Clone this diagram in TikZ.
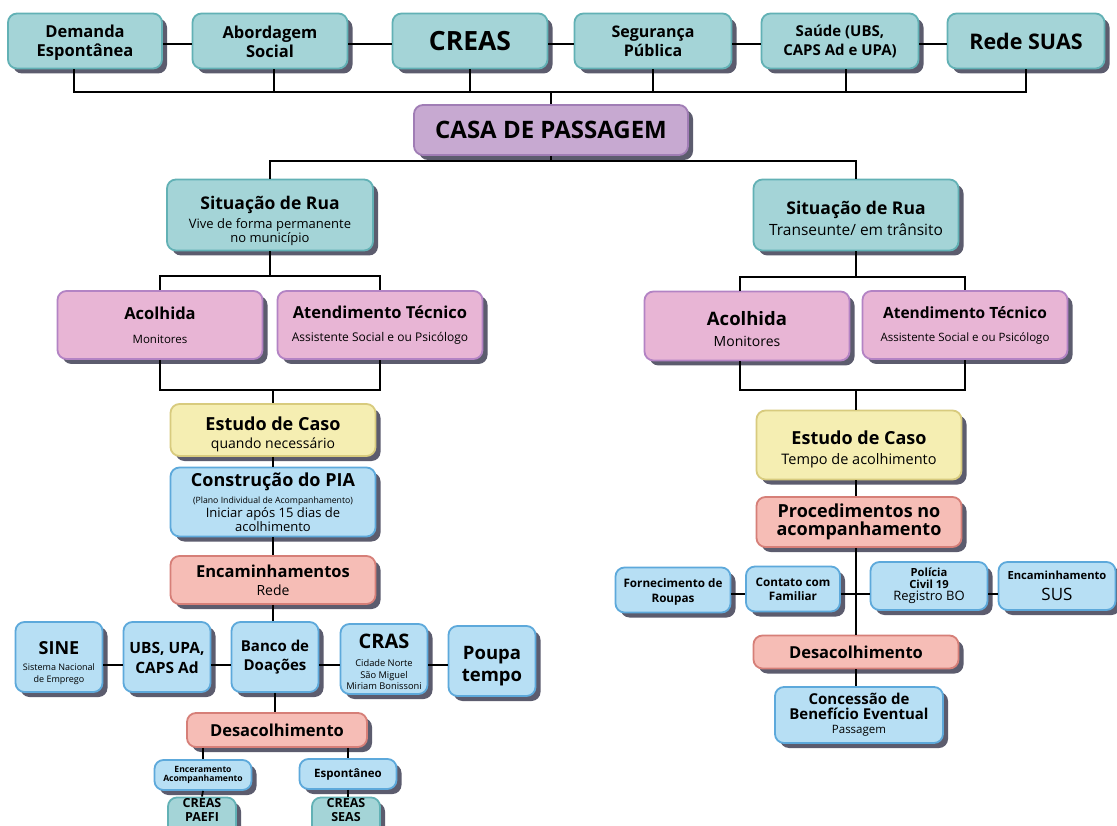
\documentclass[tikz,border=0pt]{standalone}
\usepackage{fontspec}
\setmainfont{Open Sans}
\usetikzlibrary{shadows,calc}
\definecolor{tealF}{HTML}{A4D4D7}
\definecolor{tealD}{HTML}{62B1B5}
\definecolor{purF}{HTML}{C7A9D1}
\definecolor{purD}{HTML}{A07DB5}
\definecolor{pinkF}{HTML}{E8B5D5}
\definecolor{pinkD}{HTML}{B383C4}
\definecolor{yelF}{HTML}{F5EEB2}
\definecolor{yelD}{HTML}{D8CB7E}
\definecolor{bluF}{HTML}{B7DFF4}
\definecolor{bluD}{HTML}{5DA9DB}
\definecolor{salF}{HTML}{F6BDB6}
\definecolor{salD}{HTML}{D67F78}
\definecolor{shad}{HTML}{5C5C6E}
\newcommand\fz[2]{\fontsize{#1}{#2}\selectfont}
\newcommand\rg[1]{\mdseries\fontsize{#1}{#1}\selectfont}
\newcommand\up[1]{\rule{0pt}{#1pt}}
\tikzset{
  box/.style={line width=1.8pt, rounded corners=9pt, align=center, inner sep=1pt,
    drop shadow={shadow xshift=5pt, shadow yshift=-5pt, fill=shad, opacity=1}},
  wh/.style 2 args={minimum width=#1pt, minimum height=#2pt},
  bf/.style 2 args={font=\bfseries\fz{#1}{#2}},
  tbox/.style={box, draw=tealD, fill=tealF},
  pbox/.style={box, draw=purD, fill=purF},
  kbox/.style={box, draw=pinkD, fill=pinkF},
  ybox/.style={box, draw=yelD, fill=yelF},
  bbox/.style={box, draw=bluD, fill=bluF},
  sbox/.style={box, draw=salD, fill=salF},
  conn/.style={line width=1.8pt, black},
}
\begin{document}
\begin{tikzpicture}[x=1pt,y=-1pt]
\path[use as bounding box, clip] (0,0) rectangle (1117,826);
\fill[white] (0,0) rectangle (1117,826);
% top row
\node[tbox, wh={154}{55}, bf={16.5}{19}] (dem) at (85,41) {\up{15}Demanda\\Espontânea};
\node[tbox, wh={155}{55}, bf={16.5}{19}] (abo) at (270,41) {\up{15}Abordagem\\Social};
\node[tbox, wh={155}{55}, bf={26.5}{28}] (creas) at (470,41) {CREAS};
\node[tbox, wh={157}{55}, bf={16}{19}] (seg) at (653,41) {Segurança\\Pública};
\node[tbox, wh={157}{55}, bf={15}{19}] (sau) at (840,41) {Saúde (UBS,\\CAPS Ad e UPA)};
\node[tbox, wh={157}{55}, bf={21.5}{24}] (rede) at (1026,41) {Rede SUAS};
\node[pbox, wh={274}{50}, bf={24}{26}] (casa) at (551,130) {CASA DE PASSAGEM};
% left branch
\node[tbox, wh={206}{71}, bf={17.5}{14}] (sitL) at (270,215) {\up{25}Situação de Rua\\[4pt]\rg{13}Vive de forma permanente\\\rg{13}no município};
\node[kbox, wh={205}{68}, bf={16.5}{17}] (acolL) at (160,325) {Acolhida\\[7pt]\rg{11.5}Monitores};
\node[kbox, wh={205}{68}, bf={16.5}{17}] (atendL) at (380,325) {Atendimento Técnico\\[6pt]\rg{12}Assistente Social e ou Psicólogo};
\node[ybox, wh={205}{52}, bf={18}{17}] (estL) at (273,430) {\up{23}Estudo de Caso\\[1pt]\rg{14}quando necessário};
\node[bbox, wh={205}{69}, bf={18}{12}] (pia) at (273,502) {Construção do PIA\\[5pt]\rg{8.7}(Plano Individual de Acompanhamento)\\[1pt]\rg{13}Iniciar após 15 dias de\\\rg{13}acolhimento};
\node[sbox, wh={205}{48}, bf={16.5}{17}] (encL) at (273,580) {Encaminhamentos\\[1pt]\rg{14}Rede};
\node[bbox, wh={87}{70}, bf={18}{12}] (sine) at (59,657) {\up{25}SINE\\[4pt]\rg{9}Sistema Nacional\\\rg{9}de Emprego};
\node[bbox, wh={87}{70}, bf={15.5}{20}] (ubs) at (167,657) {\up{14}UBS, UPA,\\CAPS Ad};
\node[bbox, wh={87}{70}, bf={15}{19}] (banco) at (275,657) {Banco de\\Doações};
\node[bbox, wh={87}{70}, bf={20}{11.5}] (cras) at (384,659) {\up{20}CRAS\\[7pt]\rg{9.3}Cidade Norte\\\rg{9.3}São Miguel\\\rg{9.3}Miriam Bonissoni};
\node[bbox, wh={87}{70}, bf={18.5}{22}] (poupa) at (492,661) {\up{23}Poupa\\tempo};
\node[sbox, wh={180}{34}, bf={16.5}{18}] (desL) at (277,730) {Desacolhimento};
\node[bbox, wh={97}{30}, bf={8.6}{9}] (encer) at (203,775) {Enceramento\\Acompanhamento};
\node[bbox, wh={97}{30}, bf={11.5}{12}] (espo) at (348,774) {Espontâneo};
\node[tbox, wh={68}{40}, bf={12.5}{14}] (paefi) at (202,820) {CREAS\\PAEFI\\[6pt]};
\node[tbox, wh={68}{40}, bf={12.5}{14}] (seas) at (346,820) {CREAS\\SEAS\\[6pt]};
% right branch
\node[tbox, wh={205}{71}, bf={17.5}{18}] (sitR) at (856,215) {\up{20.5}Situação de Rua\\[3pt]\rg{15.5}Transeunte/ em trânsito};
\node[kbox, wh={205}{69}, bf={18.5}{17}] (acolR) at (747,326) {\up{20}Acolhida\\[4pt]\rg{14}Monitores};
\node[kbox, wh={205}{68}, bf={15.5}{16}] (atendR) at (965,325) {Atendimento Técnico\\[7pt]\rg{11.5}Assistente Social e ou Psicólogo};
\node[ybox, wh={205}{69}, bf={18}{17}] (estR) at (859,445) {\up{23}Estudo de Caso\\[3pt]\rg{14.5}Tempo de acolhimento};
\node[sbox, wh={205}{50}, bf={18}{18}] (procR) at (859,522) {Procedimentos no\\acompanhamento};
\node[bbox, wh={115}{45}, bf={11.7}{15}] (forn) at (673,590) {\up{13}Fornecimento de\\Roupas};
\node[bbox, wh={94}{45}, bf={11.7}{14}] (contato) at (793,589) {Contato com\\Familiar};
\node[bbox, wh={117}{48}, bf={11.2}{12}] (pol) at (929,586) {Polícia\\Civil 19\\\rg{13}Registro BO};
\node[bbox, wh={117}{48}, bf={11.2}{12}] (sus) at (1057,586) {Encaminhamento\\[7pt]\rg{17}SUS};
\node[sbox, wh={205}{33}, bf={16.5}{18}] (desR) at (856,652) {Desacolhimento};
\node[bbox, wh={168}{56}, bf={15}{15}] (conc) at (859,715) {Concessão de\\Benefício Eventual\\[-1pt]\rg{11.5}Passagem};
% connectors top
\coordinate (busy) at (0,92);
\draw[conn] ([yshift=-3pt]dem.east) -- ([yshift=-3pt]abo.west);
\draw[conn] ([yshift=-3pt]abo.east) -- ([yshift=-3pt]creas.west);
\draw[conn] ([yshift=-3pt]creas.east) -- ([yshift=-3pt]seg.west);
\draw[conn] ([yshift=-3pt]seg.east) -- ([yshift=-3pt]sau.west);
\draw[conn] ([yshift=-3pt]sau.east) -- ([yshift=-3pt]rede.west);
\draw[conn] ([xshift=-11pt]dem.south) |- (rede.south |- busy) -- (rede.south);
\draw[conn] ([xshift=4pt]abo.south) -- ([xshift=4pt]abo.south |- busy);
\draw[conn] (creas.south) -- (creas.south |- busy);
\draw[conn] (seg.south) -- (seg.south |- busy);
\draw[conn] ([xshift=6pt]sau.south) -- ([xshift=6pt]sau.south |- busy);
\draw[conn] (casa.north) -- (casa.north |- busy);
% casa split
\coordinate (split1) at (551,161);
\draw[conn] (casa.south) -- (split1);
\draw[conn] (sitL.north) |- (split1) -| (sitR.north);
% left
\coordinate (jL1) at (270,276);
\coordinate (jL2) at (273,390);
\draw[conn] (sitL.south) -- (jL1);
\draw[conn] (acolL.north) |- (jL1) -| (atendL.north);
\draw[conn] (acolL.south) |- (jL2) -| (atendL.south);
\draw[conn] (jL2) -- (estL.north);
\draw[conn] (estL) -- (pia);
\draw[conn] (pia) -- (encL);
\coordinate (rowL) at (0,665);
\draw[conn] (encL.south) -- (encL.south |- banco.north);
\draw[conn] (sine.east |- rowL) -- (ubs.west |- rowL);
\draw[conn] (ubs.east |- rowL) -- (banco.west |- rowL);
\draw[conn] (banco.east |- rowL) -- (cras.west |- rowL);
\draw[conn] (cras.east |- rowL) -- (poupa.west |- rowL);
\draw[conn] (banco.south) -- (banco.south |- desL.north);
\draw[conn] (encer.north |- desL.south) -- (encer.north);
\draw[conn] (espo.north |- desL.south) -- (espo.north);
\draw[conn] (encer.south) -- (paefi.north);
\draw[conn] (espo.south) -- (espo.south |- seas.north);
% right
\coordinate (jR1) at (856,277);
\coordinate (jR2) at (856,390);
\draw[conn] (sitR.south) -- (jR1);
\draw[conn] ([xshift=-7pt]acolR.north) |- (jR1) -| (atendR.north);
\draw[conn] ([xshift=-7pt]acolR.south) |- (jR2) -| (atendR.south);
\draw[conn] (jR2) -- (jR2 |- estR.north);
\draw[conn] (jR2 |- estR.south) -- (jR2 |- procR.north);
\draw[conn] (jR2 |- procR.south) -- (jR2 |- desR.north);
\coordinate (brR) at (856,594);
\draw[conn] (brR -| contato.east) -- (brR -| pol.west);
\draw[conn] (brR -| forn.east) -- (brR -| contato.west);
\draw[conn] (brR -| pol.east) -- (brR -| sus.west);
\draw[conn] (jR2 |- desR.south) -- (jR2 |- conc.north);
\end{tikzpicture}
\end{document}
